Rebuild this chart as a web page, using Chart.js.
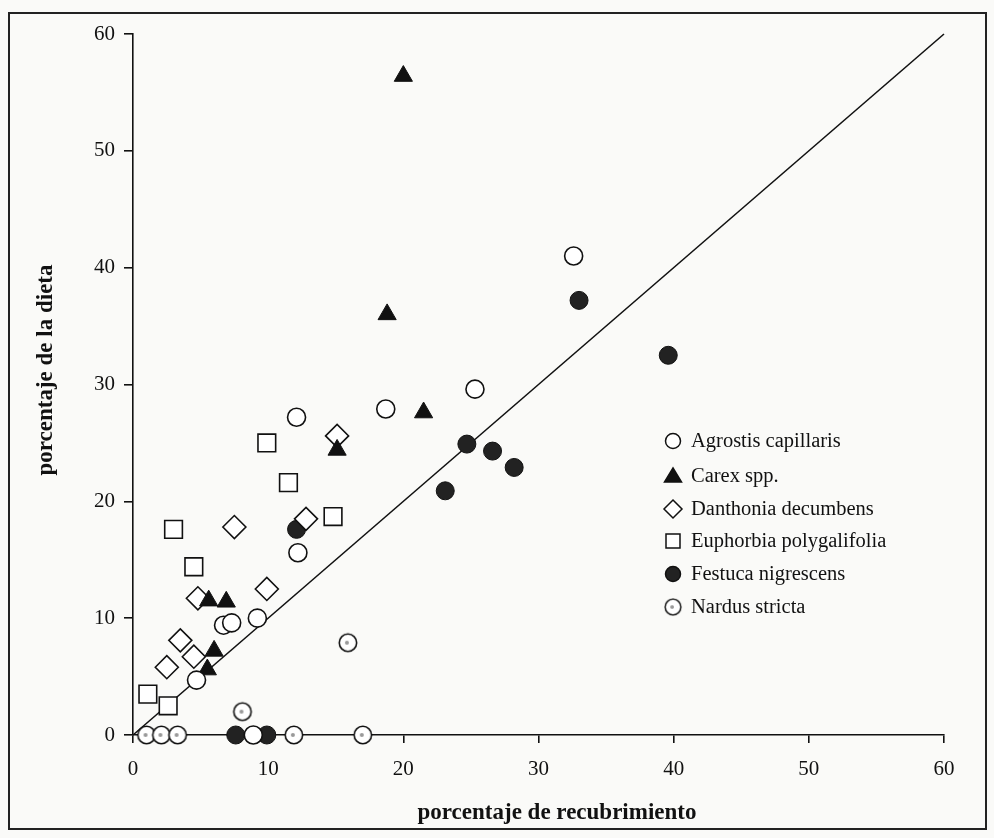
<!DOCTYPE html>
<html>
<head>
<meta charset="utf-8">
<title>porcentaje de la dieta vs recubrimiento</title>
<style>
  html, body { margin: 0; padding: 0; background: #fafaf8; }
  #wrap { position: absolute; left: 0; top: 0; width: 994px; height: 838px; }
  #frame { position: absolute; left: 8px; top: 12px; width: 979px; height: 818px; border: 2px solid #222; box-sizing: border-box; }
  canvas { position: absolute; left: 0; top: 0; }
</style>
</head>
<body>
<div id="wrap">
  <div id="frame"></div>
  <canvas id="myChart" width="994" height="838"></canvas>
</div>
<script src="https://cdn.jsdelivr.net/npm/chart.js"></script>
<script>
// values (x = % recubrimiento, y = % dieta)
const agrostisX = [4.7, 6.7, 7.3, 9.2, 12.2, 12.1, 18.7, 25.3, 32.6, 8.9];
const agrostisY = [4.7, 9.4, 9.6, 10.0, 15.6, 27.2, 27.9, 29.6, 41.0, 0];

const carexX = [5.5, 6.0, 5.6, 6.9, 15.1, 21.5, 18.8, 20.0];
const carexY = [5.6, 7.2, 11.5, 11.4, 24.4, 27.6, 36.0, 56.4];

const danthoniaX = [2.5, 4.5, 3.5, 4.8, 9.9, 7.5, 12.8, 15.1];
const danthoniaY = [5.8, 6.7, 8.1, 11.7, 12.5, 17.8, 18.5, 25.6];

const euphorbiaX = [1.1, 2.6, 4.5, 3.0, 9.9, 11.5, 14.8];
const euphorbiaY = [3.5, 2.5, 14.4, 17.6, 25.0, 21.6, 18.7];

const festucaX = [7.6, 9.9, 12.1, 23.1, 24.7, 26.6, 28.2, 33.0, 39.6];
const festucaY = [0, 0, 17.6, 20.9, 24.9, 24.3, 22.9, 37.2, 32.5];

const nardusX = [1.0, 2.1, 3.3, 11.9, 17.0, 8.1, 15.9];
const nardusY = [0, 0, 0, 0, 0, 2.0, 7.9];

const refLineX = [0, 60];
const refLineY = [0, 60];

const xTicks = [0, 10, 20, 30, 40, 50, 60];
const yTicks = [0, 10, 20, 30, 40, 50, 60];

const speciesNames = [
    'Agrostis capillaris',
    'Carex spp.',
    'Danthonia decumbens',
    'Euphorbia polygalifolia',
    'Festuca nigrescens',
    'Nardus stricta'
];

const xTitle = 'porcentaje de recubrimiento';
const yTitle = 'porcentaje de la dieta';

function toPoints(xs, ys) {
    return xs.map((x, i) => ({ x, y: ys[i] }));
}

// circle with a grey speck inside, as in the scan
function makeNardusMarker() {
    const c = document.createElement('canvas');
    c.width = 22;
    c.height = 22;
    const g = c.getContext('2d');
    g.beginPath();
    g.arc(11, 11, 8.7, 0, Math.PI * 2);
    g.fillStyle = '#fff';
    g.fill();
    g.lineWidth = 1.6;
    g.strokeStyle = '#111';
    g.stroke();
    g.beginPath();
    g.arc(10, 11, 2, 0, Math.PI * 2);
    g.fillStyle = '#999';
    g.fill();
    return c;
}
const nardusMarker = makeNardusMarker();

const serif = '"Liberation Serif", "DejaVu Serif", serif';

const datasets = [
    {
        label: speciesNames[0],
        data: toPoints(agrostisX, agrostisY),
        pointStyle: 'circle',
        pointRadius: 9,
        backgroundColor: '#fff',
        borderColor: '#111',
        borderWidth: 1.6
    }, {
        label: speciesNames[1],
        data: toPoints(carexX, carexY),
        pointStyle: 'triangle',
        pointRadius: 10.5,
        backgroundColor: '#111',
        borderColor: '#111',
        borderWidth: 1
    }, {
        label: speciesNames[2],
        data: toPoints(danthoniaX, danthoniaY),
        pointStyle: 'rectRot',
        pointRadius: 11.5,
        backgroundColor: '#fff',
        borderColor: '#111',
        borderWidth: 1.6
    }, {
        label: speciesNames[3],
        data: toPoints(euphorbiaX, euphorbiaY),
        pointStyle: 'rect',
        pointRadius: 12.5,
        backgroundColor: '#fff',
        borderColor: '#111',
        borderWidth: 1.6
    }, {
        label: speciesNames[4],
        data: toPoints(festucaX, festucaY),
        pointStyle: 'circle',
        pointRadius: 9,
        backgroundColor: '#222',
        borderColor: '#111',
        borderWidth: 1
    }, {
        label: speciesNames[5],
        data: toPoints(nardusX, nardusY),
        pointStyle: nardusMarker,
        backgroundColor: '#fff',
        borderColor: '#111'
    }, {
        label: 'y = x',
        type: 'line',
        data: toPoints(refLineX, refLineY),
        showLine: true,
        pointRadius: 0,
        borderColor: '#111',
        borderWidth: 1.6,
        fill: false,
        order: 10
    }
];
datasets.forEach(d => { d.clip = false; });

// legend and axis titles placed where the printed figure has them
const annotatePlugin = {
    id: 'figureText',
    afterDraw(chart) {
        const ctx = chart.ctx;
        const symX = 673;
        const textX = 691;
        const rows = [441, 476, 509, 541, 574, 607];
        ctx.save();
        ctx.font = '20.5px ' + serif;
        ctx.textBaseline = 'middle';
        for (let i = 0; i < 6; i++) {
            const y = rows[i];
            const ds = chart.data.datasets[i];
            ctx.lineWidth = 1.5;
            ctx.strokeStyle = '#111';
            ctx.fillStyle = ds.backgroundColor;
            ctx.beginPath();
            if (i === 0 || i === 4) {
                ctx.arc(symX, y, 7.5, 0, Math.PI * 2);
            } else if (i === 1) {
                ctx.moveTo(symX, y - 8);
                ctx.lineTo(symX + 8.5, y + 6);
                ctx.lineTo(symX - 8.5, y + 6);
                ctx.closePath();
            } else if (i === 2) {
                ctx.moveTo(symX, y - 9);
                ctx.lineTo(symX + 9, y);
                ctx.lineTo(symX, y + 9);
                ctx.lineTo(symX - 9, y);
                ctx.closePath();
            } else if (i === 3) {
                ctx.rect(symX - 7, y - 7, 14, 14);
            }
            if (i === 5) {
                ctx.drawImage(nardusMarker, symX - 10, y - 10, 20, 20);
            } else {
                ctx.fill();
                ctx.stroke();
            }
            ctx.fillStyle = '#111';
            ctx.fillText(ds.label, textX, y + 1);
        }

        ctx.font = 'bold 23px ' + serif;
        ctx.textAlign = 'center';
        ctx.fillText(xTitle, 557, 813);
        ctx.translate(46, 370);
        ctx.rotate(-Math.PI / 2);
        ctx.fillText(yTitle, 0, 0);
        ctx.restore();
    }
};

const ctx = document.getElementById('myChart');

new Chart(ctx, {
    type: 'scatter',
    data: { datasets },
    options: {
        responsive: false,
        animation: false,
        layout: { padding: { left: 0, right: 50, top: 34, bottom: 0 } },
        plugins: {
            legend: { display: false },
            tooltip: { enabled: false }
        },
        scales: {
            x: {
                type: 'linear',
                min: 0,
                max: 60,
                afterBuildTicks: scale => { scale.ticks = xTicks.map(v => ({ value: v })); },
                afterFit: scale => { scale.height = 103; },
                border: { display: true, color: '#111', width: 1.6 },
                grid: { display: true, drawOnChartArea: false, drawTicks: true, tickLength: 8, color: '#111', lineWidth: 1.6 },
                ticks: { color: '#111', padding: 14, maxRotation: 0, font: { family: serif, size: 21 } },
                title: { display: false }
            },
            y: {
                type: 'linear',
                min: 0,
                max: 60,
                afterBuildTicks: scale => { scale.ticks = yTicks.map(v => ({ value: v })); },
                afterFit: scale => { scale.width = 133; },
                border: { display: true, color: '#111', width: 1.6 },
                grid: { display: true, drawOnChartArea: false, drawTicks: true, tickLength: 9, color: '#111', lineWidth: 1.6 },
                ticks: { color: '#111', padding: 9, font: { family: serif, size: 21 } },
                title: { display: false }
            }
        }
    },
    plugins: [annotatePlugin]
});
</script>
</body>
</html>
